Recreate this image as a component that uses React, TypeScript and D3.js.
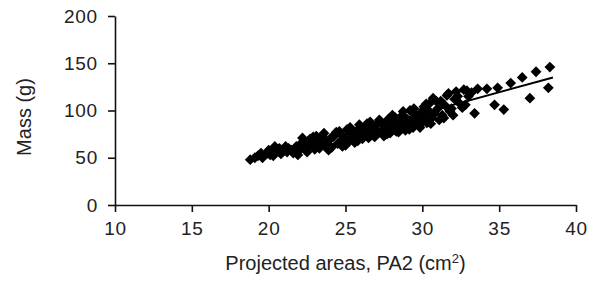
import { useRef, useEffect } from 'react'
import * as d3 from 'd3'

// projected area (cm2) and mass (g)
const areas = [
  18.8, 19.3, 19.6, 19.9, 20.1, 20.4, 20.5, 20.8, 21.0, 21.2, 21.3, 21.6, 21.8, 22.0, 22.1, 22.2,
  22.4, 22.6, 22.8, 22.9, 23.0, 23.2, 23.4, 23.5, 23.7, 23.8, 24.0, 24.1, 24.3, 24.4, 24.5, 24.7,
  24.9, 25.0, 25.1, 25.2, 25.4, 25.5, 25.7, 25.8, 26.0, 26.2, 26.3, 26.4, 26.5, 26.7, 26.8, 27.0,
  27.1, 27.3, 27.4, 27.5, 27.6, 27.8, 27.9, 28.0, 28.1, 28.2, 28.3, 28.4, 28.5, 28.6, 28.7, 28.8,
  28.9, 29.0, 29.1, 29.2, 29.3, 29.4, 29.5, 29.6, 29.7, 29.8, 29.9, 30.0, 30.1, 30.2, 30.3, 30.4,
  30.5, 30.6, 30.7, 30.8, 31.0, 31.1, 31.2, 31.3, 31.5, 31.6, 31.8, 32.0, 32.1, 32.2, 32.4, 32.6,
  32.9, 33.0, 33.4, 33.6, 34.2, 34.7, 34.9, 35.3, 35.75, 36.5, 37.0, 37.4, 38.2, 38.3,
  19.1, 19.5, 20.0, 20.3, 20.7, 21.1, 21.5, 21.9, 22.3, 22.5, 22.7, 23.1, 23.3, 23.6, 23.9, 24.2,
  24.6, 24.8, 25.3, 25.6, 25.9, 26.1, 26.6, 26.9, 27.2, 27.7, 28.05, 28.45, 28.75, 29.15, 29.45, 29.85,
  30.25, 30.55, 30.9, 31.4, 31.7, 31.9, 32.3, 32.7, 32.8, 33.2, 30.1, 29.5, 27.5, 26.0,
]
const masses = [
  48, 52, 50, 55, 53, 62, 57, 54, 58, 56, 60, 55, 62, 58, 65, 71,
  60, 63, 67, 72, 59, 64, 68, 73, 62, 66, 70, 61, 75, 77, 65, 68,
  72, 63, 80, 67, 75, 70, 78, 68, 73, 82, 76, 86, 71, 80, 74, 84,
  77, 88, 79, 73, 82, 91, 76, 86, 80, 93, 78, 84, 89, 81, 95, 86,
  79, 91, 84, 100, 88, 82, 96, 86, 92, 84, 98, 89, 104, 94, 87, 100,
  108, 92, 113, 97, 102, 90, 110, 95, 105, 116, 99, 95, 112, 120, 108, 103,
  121, 115, 97, 123, 123, 106, 124, 101, 129, 135, 113, 141, 124, 146,
  50, 55, 58, 52, 60, 62, 58, 53, 68, 56, 70, 73, 60, 76, 58, 72,
  78, 62, 82, 66, 85, 70, 88, 72, 90, 75, 95, 77, 99, 80, 102, 82,
  107, 86, 110, 92, 118, 102, 115, 122, 106, 119, 96, 90, 85, 78,
]

// fitted line end points
const trendX = [18.8, 38.5]
const trendY = [47, 135]

const xTicks = [10, 15, 20, 25, 30, 35, 40]
const yTicks = [0, 50, 100, 150, 200]

export default function App() {
  const svgRef = useRef<SVGSVGElement>(null)
  const width = 592
  const height = 289

  useEffect(() => {
    if (!svgRef.current) return
    const svg = d3.select(svgRef.current)
    svg.selectAll('*').remove()

    const x = d3.scaleLinear().domain([10, 40]).range([115, 576])
    const y = d3.scaleLinear().domain([0, 200]).range([205, 16])

    const ink = '#111'

    // x axis
    const gx = svg.append('g')
      .attr('transform', `translate(0,${y(0)})`)
      .call(d3.axisBottom(x).tickValues(xTicks).tickSize(7).tickSizeOuter(0).tickPadding(10))
    gx.select('.domain').attr('stroke', ink).attr('stroke-width', 1.6)
    gx.selectAll('.tick line').attr('stroke', ink).attr('stroke-width', 1.6)
    gx.selectAll('.tick text')
      .attr('fill', '#222')
      .attr('font-family', 'Liberation Sans, Arial, sans-serif')
      .attr('font-size', 19)
      .attr('letter-spacing', 0.8)

    // y axis
    const gy = svg.append('g')
      .attr('transform', `translate(${x(10)},0)`)
      .call(d3.axisLeft(y).tickValues(yTicks).tickSize(7).tickSizeOuter(0).tickPadding(10))
    gy.select('.domain').attr('stroke', ink).attr('stroke-width', 1.6)
    gy.selectAll('.tick line').attr('stroke', ink).attr('stroke-width', 1.6)
    gy.selectAll('.tick text')
      .attr('fill', '#222')
      .attr('font-family', 'Liberation Sans, Arial, sans-serif')
      .attr('font-size', 19)
      .attr('letter-spacing', 0.8)

    // axis titles
    const title = svg.append('text')
      .attr('x', (x(10) + x(40)) / 2)
      .attr('y', 270)
      .attr('text-anchor', 'middle')
      .attr('fill', '#222')
      .attr('font-family', 'Liberation Sans, Arial, sans-serif')
      .attr('font-size', 20)
    title.append('tspan').text('Projected areas, PA2 (cm')
    title.append('tspan').attr('baseline-shift', 'super').attr('font-size', 13).text('2')
    title.append('tspan').text(')')

    svg.append('text')
      .attr('transform', `translate(31,117) rotate(-90)`)
      .attr('text-anchor', 'middle')
      .attr('fill', '#222')
      .attr('font-family', 'Liberation Sans, Arial, sans-serif')
      .attr('font-size', 20)
      .text('Mass (g)')

    // points
    const diamond = d3.symbol().type(d3.symbolSquare).size(58)
    svg.append('g')
      .selectAll('path')
      .data(areas.map((a, i) => [a, masses[i]]))
      .enter()
      .append('path')
      .attr('d', diamond)
      .attr('transform', d => `translate(${x(d[0])},${y(d[1])}) rotate(45)`)
      .attr('fill', '#000')

    // trend line
    const line = d3.line<number>()
      .x(d => x(trendX[d]))
      .y(d => y(trendY[d]))
    svg.append('path')
      .attr('d', line([0, 1]))
      .attr('stroke', '#000')
      .attr('stroke-width', 2)
      .attr('fill', 'none')
  }, [])

  return (
    <svg
      ref={svgRef}
      width={width}
      height={height}
      style={{ position: 'absolute', left: 0, top: 0, background: '#fff' }}
    />
  )
}
